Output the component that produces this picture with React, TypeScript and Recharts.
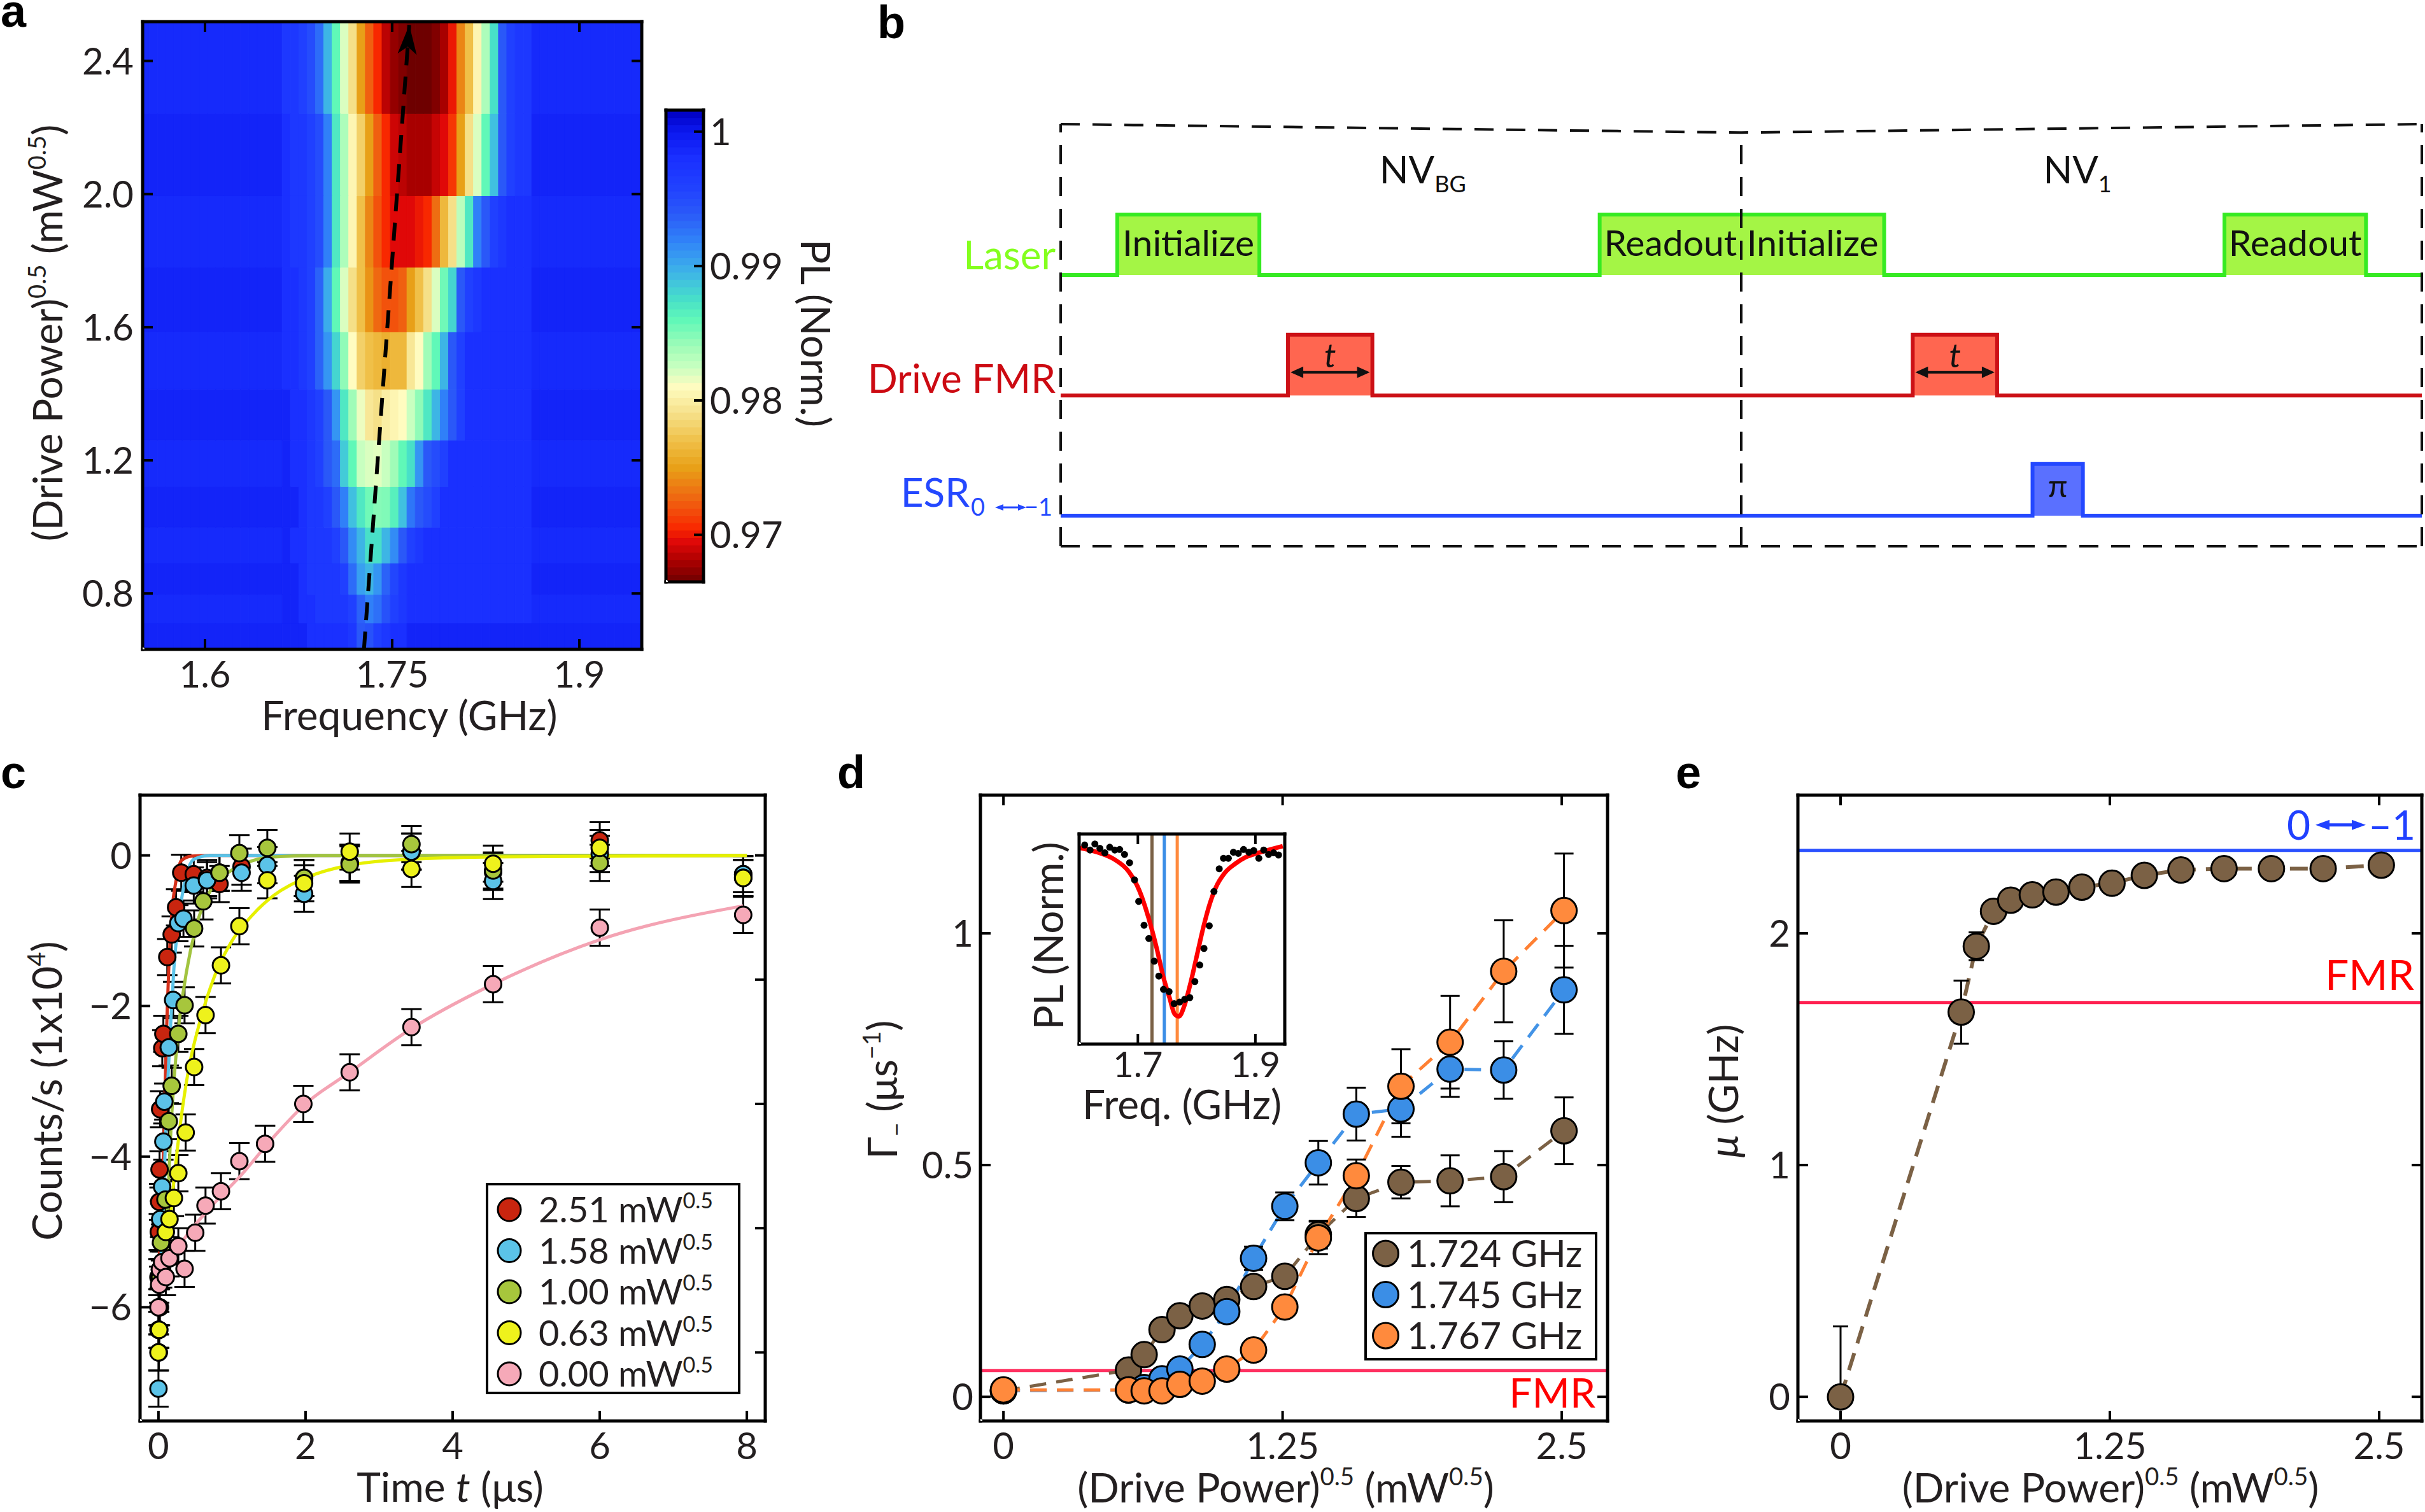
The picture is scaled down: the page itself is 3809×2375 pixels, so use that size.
import React from 'react';
import {
  ComposedChart, Line, Scatter, XAxis, YAxis, ReferenceArea, ReferenceLine, ErrorBar, Legend,
} from 'recharts';

const FONT = 'Lato, "Open Sans", "DejaVu Sans", sans-serif';
const INK = '#231f20';
const TICK_FS = 58;
const TITLE_FS = 64;

// ================= Panel a : PL map =================
const powerEdges = [0.632, 0.711, 0.797, 0.891, 0.999, 1.121, 1.261, 1.414, 1.586, 1.78, 1.995, 2.242, 2.518];
const freqStart = 1.5485;
const freqStep = 1 / 150;
const freqCount = 61;
const dipStartCol = 17;
const rowBackground = [0.999, 0.9985, 0.999, 0.9985, 0.999, 0.9985, 0.999, 0.9985, 0.999, 0.9985, 0.999, 0.9985];
const plRow0 = [0.999,0.999,0.999,0.998,0.998,0.998,0.998,0.998,0.997,0.994,0.9945,0.996,0.997,0.998,0.998,0.999,0.999,0.999,0.999,0.999,0.999,0.999,0.999,0.999,0.999,0.999,0.999,0.999,0.999,0.999];
const plRow1 = [0.999,0.999,0.998,0.998,0.997,0.997,0.997,0.997,0.996,0.9935,0.992,0.9928,0.9945,0.996,0.997,0.998,0.998,0.998,0.998,0.998,0.998,0.998,0.998,0.998,0.998,0.998,0.998,0.998,0.998,0.998];
const plRow2 = [0.999,0.999,0.998,0.997,0.997,0.997,0.997,0.996,0.993,0.9905,0.9895,0.991,0.9935,0.9955,0.997,0.998,0.998,0.998,0.998,0.998,0.998,0.998,0.998,0.998,0.998,0.998,0.998,0.998,0.998,0.998];
const plRow3 = [0.999,0.998,0.998,0.997,0.997,0.997,0.996,0.994,0.9915,0.9895,0.9875,0.9875,0.9895,0.9915,0.994,0.996,0.997,0.998,0.998,0.998,0.998,0.998,0.998,0.998,0.998,0.998,0.998,0.998,0.998,0.998];
const plRow4 = [0.999,0.999,0.998,0.997,0.997,0.996,0.994,0.992,0.989,0.987,0.9855,0.9848,0.985,0.9865,0.989,0.9925,0.994,0.995,0.996,0.998,0.998,0.998,0.998,0.998,0.998,0.998,0.998,0.998,0.998,0.998];
const plRow5 = [0.999,0.998,0.998,0.997,0.996,0.994,0.993,0.9885,0.986,0.9825,0.982,0.9818,0.9825,0.984,0.986,0.9875,0.991,0.994,0.995,0.996,0.998,0.998,0.998,0.998,0.998,0.998,0.998,0.998,0.998,0.998];
const plRow6 = [0.999,0.998,0.998,0.997,0.996,0.994,0.991,0.987,0.984,0.9815,0.9795,0.979,0.98,0.9805,0.981,0.9825,0.9845,0.987,0.9895,0.992,0.994,0.996,0.998,0.998,0.998,0.998,0.998,0.998,0.998,0.998];
const plRow7 = [0.998,0.998,0.997,0.996,0.9935,0.991,0.988,0.9845,0.981,0.978,0.977,0.9765,0.976,0.9765,0.9765,0.9795,0.981,0.984,0.986,0.9895,0.994,0.996,0.998,0.998,0.998,0.998,0.998,0.998,0.998,0.998];
const plRow8 = [0.998,0.998,0.997,0.996,0.9935,0.99,0.986,0.982,0.979,0.977,0.9745,0.9728,0.972,0.972,0.9725,0.975,0.977,0.979,0.982,0.9855,0.988,0.994,0.996,0.997,0.998,0.998,0.998,0.998,0.998,0.998];
const plRow9 = [0.998,0.997,0.997,0.996,0.995,0.992,0.987,0.9835,0.9805,0.977,0.974,0.972,0.9705,0.9695,0.9695,0.9695,0.97,0.9705,0.973,0.9765,0.979,0.983,0.987,0.992,0.994,0.996,0.997,0.998,0.998,0.998];
const plRow10 = [0.998,0.997,0.997,0.996,0.995,0.992,0.987,0.9835,0.9805,0.978,0.975,0.9725,0.9705,0.969,0.9685,0.968,0.968,0.968,0.9688,0.9695,0.971,0.975,0.979,0.982,0.986,0.989,0.994,0.996,0.997,0.997];
const plRow11 = [0.997,0.997,0.996,0.995,0.993,0.9895,0.986,0.982,0.979,0.975,0.9725,0.9705,0.9685,0.9675,0.967,0.9665,0.9665,0.9665,0.967,0.968,0.97,0.974,0.977,0.9805,0.9835,0.9875,0.994,0.996,0.997,0.997];
const plRows = [plRow0, plRow1, plRow2, plRow3, plRow4, plRow5, plRow6, plRow7, plRow8, plRow9, plRow10, plRow11];
const resonanceTrack = [{ x: 1.7274, y: 0.632 }, { x: 1.7637, y: 2.508 }];
const aFreqTicks = [1.6, 1.75, 1.9];
const aPowerTicks = [0.8, 1.2, 1.6, 2.0, 2.4];
const colorbarTicks = [0.97, 0.98, 0.99, 1.0];
const plRange: [number, number] = [0.9665, 1.0016];
const colorbarLevels = 64;
const cmapStops: [number, string][] = [
  [0.9665, '#6e0000'], [0.968, '#a80000'], [0.9695, '#e00808'], [0.9705, '#f82800'],
  [0.9725, '#f06010'], [0.975, '#e8a018'], [0.977, '#f0c048'], [0.979, '#f5e088'],
  [0.981, '#fffcc0'], [0.9825, '#c8ffc0'], [0.984, '#a0fcb8'], [0.986, '#60f8b8'],
  [0.9875, '#48e0c8'], [0.989, '#40c0e0'], [0.9905, '#38a0f0'], [0.992, '#3080f8'],
  [0.994, '#2a58f8'], [0.996, '#2040ff'], [0.998, '#1a30ff'], [1.0, '#0c18f0'], [1.0016, '#0000c0'],
];

// ================= Panel b : pulse sequence =================
const laserPulses = [
  { start: 4.16, end: 14.6, text: 'Initialize' },
  { start: 39.6, end: 50, text: 'Readout' },
  { start: 50, end: 60.5, text: 'Initialize' },
  { start: 85.5, end: 95.9, text: 'Readout' },
];
const fmrPulses = [{ start: 16.7, end: 22.9 }, { start: 62.6, end: 68.8 }];
const esrPulses = [{ start: 71.4, end: 75.1 }];
const laserLevel = [64.25, 78.6];
const fmrLevel = [35.7, 50.1];
const esrLevel = [7.24, 19.5];
const segmentCenters = [26.6, 74.7];
const segmentNames = ['BG', '1'];
const separatorTime = 50;
const boxTopSag = 98;

// ================= Panel c : time traces =================
const cRedT = [0, 0.005, 0.01, 0.015, 0.023, 0.052, 0.067, 0.12, 0.18, 0.24, 0.31, 0.48, 0.66, 0.83, 1.13, 1.98, 2.6, 3.44, 4.55, 6.0, 7.95];
const cRedV = [-5.6, -5.0, -4.6, -4.17, -3.37, -2.56, -2.37, -1.35, -1.05, -0.69, -0.23, -0.25, -0.3, -0.38, -0.15, -0.3, -0.1, 0.05, -0.22, 0.2, -0.25];
const cRedFitT = [0, 0.02, 0.05, 0.08, 0.11, 0.14, 0.18, 0.24, 0.31, 0.45, 0.7, 8];
const cRedFitV = [-5.6, -5.1, -4.57, -3.55, -2.32, -1.5, -0.79, -0.33, -0.07, -0.01, 0, 0];
const cBlueT = [0, 0.005, 0.01, 0.02, 0.023, 0.05, 0.067, 0.08, 0.14, 0.2, 0.27, 0.34, 0.48, 0.66, 0.83, 1.13, 1.48, 1.98, 2.6, 3.44, 4.55, 6.0, 7.95];
const cBlueV = [-7.08, -6.6, -6.3, -5.5, -4.83, -4.4, -3.8, -3.27, -2.55, -1.92, -0.9, -0.84, -0.4, -0.33, -0.23, -0.23, -0.13, -0.51, -0.1, 0.05, -0.34, 0.02, -0.25];
const cBlueFitT = [0, 0.043, 0.067, 0.095, 0.125, 0.17, 0.21, 0.27, 0.34, 0.485, 0.7, 8];
const cBlueFitV = [-5.6, -5.19, -4.57, -3.8, -3.04, -2.17, -1.5, -0.89, -0.43, -0.05, 0, 0];
const cGreenT = [0, 0.01, 0.02, 0.035, 0.095, 0.14, 0.18, 0.27, 0.355, 0.485, 0.61, 0.83, 1.1, 1.48, 1.98, 2.6, 3.44, 4.55, 6.0, 7.95];
const cGreenV = [-6.3, -6.0, -5.6, -5.14, -4.57, -3.53, -3.06, -2.37, -1.99, -0.97, -0.61, -0.23, 0.03, 0.1, -0.3, -0.12, 0.15, -0.2, -0.1, -0.3];
const cGreenFitT = [0, 0.05, 0.095, 0.18, 0.27, 0.37, 0.5, 0.7, 0.99, 1.28, 1.57, 2.2, 8];
const cGreenFitV = [-5.6, -5.4, -5.14, -3.45, -2.32, -1.61, -0.99, -0.48, -0.2, -0.07, -0.02, 0, 0];
const cYellowT = [0, 0.01, 0.02, 0.05, 0.1, 0.15, 0.21, 0.27, 0.37, 0.485, 0.64, 0.85, 1.1, 1.48, 1.98, 2.6, 3.44, 4.55, 6.0, 7.95];
const cYellowV = [-6.6, -6.3, -6.0, -5.5, -5.0, -4.83, -4.55, -4.22, -3.68, -2.81, -2.12, -1.46, -0.94, -0.33, -0.37, 0.05, -0.18, -0.11, 0.1, -0.3];
const cYellowFitT = [0, 0.06, 0.125, 0.21, 0.3, 0.41, 0.56, 0.76, 0.99, 1.28, 1.57, 2.0, 2.6, 3.44, 4.55, 8];
const cYellowFitV = [-5.6, -5.45, -5.14, -4.32, -3.55, -2.84, -2.22, -1.61, -1.15, -0.79, -0.53, -0.3, -0.13, -0.05, -0.02, 0];
const cPinkT = [0, 0.01, 0.02, 0.05, 0.1, 0.15, 0.27, 0.355, 0.5, 0.64, 0.85, 1.1, 1.45, 1.97, 2.6, 3.44, 4.55, 6.0, 7.95];
const cPinkV = [-6.0, -5.7, -5.5, -5.4, -5.6, -5.35, -5.19, -5.49, -5.01, -4.65, -4.46, -4.06, -3.83, -3.3, -2.88, -2.28, -1.71, -0.96, -0.79];
const cPinkFitT = [0, 0.27, 0.7, 1.13, 1.51, 2.0, 2.6, 3.44, 4.55, 6.0, 7.95];
const cPinkFitV = [-5.7, -5.21, -4.68, -4.24, -3.8, -3.3, -2.88, -2.3, -1.71, -1.12, -0.67];
const cErr = 0.24;
const cLabels = ['2.51', '1.58', '1.00', '0.63', '0.00'];

// ================= Panel d : rates =================
const dPower = [0, 0.56, 0.63, 0.71, 0.79, 0.89, 1.0, 1.12, 1.26, 1.41, 1.58, 1.78, 2.0, 2.24, 2.51];
const dBrownV = [0.013, 0.058, 0.091, 0.145, 0.175, 0.196, 0.21, 0.238, 0.26, 0.35, 0.428, 0.463, 0.466, 0.475, 0.574];
const dBrownE = [0.005, 0.01, 0.01, 0.01, 0.01, 0.01, 0.01, 0.015, 0.015, 0.03, 0.04, 0.035, 0.055, 0.055, 0.072];
const dBlueV = [0.013, 0.015, 0.02, 0.039, 0.06, 0.113, 0.184, 0.299, 0.411, 0.505, 0.61, 0.621, 0.707, 0.705, 0.878];
const dBlueE = [0.005, 0.005, 0.005, 0.005, 0.01, 0.01, 0.015, 0.025, 0.03, 0.047, 0.057, 0.06, 0.06, 0.062, 0.095];
const dOrangeV = [0.015, 0.015, 0.013, 0.013, 0.027, 0.034, 0.06, 0.101, 0.194, 0.343, 0.477, 0.67, 0.765, 0.918, 1.049];
const dOrangeE = [0.005, 0.005, 0.005, 0.005, 0.005, 0.01, 0.01, 0.01, 0.01, 0.035, 0.035, 0.08, 0.1, 0.11, 0.123];
const dLabels = ['1.724 GHz', '1.745 GHz', '1.767 GHz'];
const dFmrRate = 0.057;
const insetFreq = [1.6095,1.6186,1.6268,1.6354,1.6438,1.6521,1.6607,1.669,1.6773,1.6859,1.6943,1.7014,1.7105,1.7187,1.7278,1.7357,1.7436,1.753,1.7617,1.7711,1.7797,1.7884,1.797,1.8053,1.8125,1.8215,1.8295,1.8385,1.8457,1.854,1.8626,1.8709,1.8799,1.889,1.8972,1.9059,1.9142,1.9225,1.9311,1.9394];
const insetPL = [1.002,1.0011,1.0022,1.0014,1.0006,1.0016,1.0011,1.0012,1.0003,0.9988,0.9957,0.9918,0.9875,0.9851,0.981,0.9783,0.9759,0.9755,0.9733,0.9736,0.9741,0.9744,0.9773,0.9803,0.9833,0.9874,0.9936,0.9977,0.9996,0.9996,1.0007,1.0005,1.0012,1.0007,1.001,0.9996,1.0011,1.0003,1.0006,1.0002];
const insetFitFreq = [1.6005,1.6311,1.66,1.6852,1.7032,1.7177,1.7321,1.7429,1.7538,1.7627,1.77,1.779,1.7898,1.8006,1.8114,1.8222,1.833,1.8475,1.8655,1.8836,1.9088,1.9466];
const insetFitPL = [1.0015,1.0007,0.9994,0.9971,0.9936,0.989,0.9833,0.9783,0.9744,0.9714,0.971,0.9729,0.9771,0.9821,0.9871,0.9913,0.9944,0.9969,0.9986,0.9998,1.0007,1.0018];
const insetMarkFreq = [1.724, 1.745, 1.767];

// ================= Panel e : chemical potential =================
const eMu = [0, 1.66, 1.944, 2.095, 2.143, 2.166, 2.178, 2.199, 2.216, 2.25, 2.273, 2.279, 2.279, 2.279, 2.294];
const eErrLow = [0, 0.136, 0.06, 0.02, 0.02, 0.02, 0.02, 0.02, 0.02, 0.02, 0.02, 0.02, 0.02, 0.02, 0.02];
const eErrHigh = [0.304, 0.136, 0.06, 0.02, 0.02, 0.02, 0.02, 0.02, 0.02, 0.02, 0.02, 0.02, 0.02, 0.02, 0.02];
const eEsrFreq = 2.358;
const eFmrFreq = 1.701;

// ================= helpers =================
function hex(c: string) { return [1, 3, 5].map((i) => parseInt(c.slice(i, i + 2), 16)); }
function cmap(v: number) {
  const s = cmapStops;
  if (v <= s[0][0]) return s[0][1];
  if (v >= s[s.length - 1][0]) return s[s.length - 1][1];
  for (let i = 0; i < s.length - 1; i++) {
    if (v >= s[i][0] && v <= s[i + 1][0]) {
      const f = (v - s[i][0]) / (s[i + 1][0] - s[i][0]);
      const a = hex(s[i][1]); const b = hex(s[i + 1][1]);
      const c = a.map((x, k) => Math.round(x + (b[k] - x) * f));
      return `rgb(${c[0]},${c[1]},${c[2]})`;
    }
  }
  return s[0][1];
}

const heatCells = plRows.flatMap((row, r) => {
  const out: { x1: number; x2: number; y1: number; y2: number; v: number }[] = [];
  for (let k = 0; k < freqCount; k++) {
    const inDip = k >= dipStartCol && k < dipStartCol + row.length;
    out.push({
      x1: freqStart + k * freqStep, x2: freqStart + (k + 1) * freqStep,
      y1: powerEdges[r], y2: powerEdges[r + 1], v: inDip ? row[k - dipStartCol] : rowBackground[r],
    });
  }
  return out;
});

const colorbarBands = Array.from({ length: colorbarLevels }, (_, i) => {
  const span = plRange[1] - plRange[0];
  return { y1: plRange[0] + (i * span) / colorbarLevels, y2: plRange[0] + ((i + 1) * span) / colorbarLevels, v: plRange[0] + ((i + 0.5) * span) / colorbarLevels };
});

const zipXY = (xs: number[], ys: number[], es?: any[]) => xs.map((x, i) => ({ x, y: ys[i], e: es ? es[i] : 0 }));

const cSeries = [
  { label: cLabels[0], fill: '#c9250f', line: '#d4301a', pts: zipXY(cRedT, cRedV, cRedT.map(() => cErr)), fit: zipXY(cRedFitT, cRedFitV) },
  { label: cLabels[1], fill: '#5bc3e8', line: '#5bc3e8', pts: zipXY(cBlueT, cBlueV, cBlueT.map(() => cErr)), fit: zipXY(cBlueFitT, cBlueFitV) },
  { label: cLabels[2], fill: '#a7c63c', line: '#a2c440', pts: zipXY(cGreenT, cGreenV, cGreenT.map(() => cErr)), fit: zipXY(cGreenFitT, cGreenFitV) },
  { label: cLabels[3], fill: '#eef21c', line: '#e6f000', pts: zipXY(cYellowT, cYellowV, cYellowT.map(() => cErr)), fit: zipXY(cYellowFitT, cYellowFitV) },
  { label: cLabels[4], fill: '#f6a9b8', line: '#f4a3b3', pts: zipXY(cPinkT, cPinkV, cPinkT.map(() => cErr)), fit: zipXY(cPinkFitT, cPinkFitV) },
];

const dSeries = [
  { label: dLabels[0], fill: '#7b6145', line: '#7b6145', pts: zipXY(dPower, dBrownV, dBrownE) },
  { label: dLabels[1], fill: '#3b8ee6', line: '#4393e6', pts: zipXY(dPower, dBlueV, dBlueE) },
  { label: dLabels[2], fill: '#ff8a3d', line: '#ff8033', pts: zipXY(dPower, dOrangeV, dOrangeE) },
];
const insetMarkColors = ['#7b6145', '#3b8ee6', '#ff8a3d'];

const ePts = dPower.map((x, i) => ({ x, y: eMu[i], e: [eErrLow[i], eErrHigh[i]] }));

const frameLine: any = { stroke: '#000', strokeWidth: 5, strokeLinecap: 'square' };

type Seg = { t: string; k?: 'sup' | 'sub'; i?: boolean };
function Rich({ segs, fs }: { segs: Seg[]; fs: number }) {
  let cur = 0;
  return (
    <>
      {segs.map((s, i) => {
        const target = s.k === 'sup' ? -0.42 * fs : s.k === 'sub' ? 0.2 * fs : 0;
        const dy = target - cur;
        cur = target;
        return (
          <tspan key={i} dy={dy} fontSize={s.k ? fs * 0.6 : fs} fontStyle={s.i ? 'italic' : undefined}>{s.t}</tspan>
        );
      })}
    </>
  );
}

const xTitle = (segs: Seg[], dx: number, base: number, fs = TITLE_FS) => (p: any) => {
  const vb = p.viewBox || p;
  const cx = vb.x + vb.width / 2 + dx;
  return (
    <text x={cx} y={vb.y + base} textAnchor="middle" fontSize={fs} fontFamily={FONT} fill={INK} style={{ whiteSpace: 'pre' }}>
      <Rich segs={segs} fs={fs} />
    </text>
  );
};
const yTitle = (segs: Seg[], off: number, dy: number, fs = TITLE_FS, rot = -90) => (p: any) => {
  const vb = p.viewBox || p;
  const edge = rot === -90 ? vb.x + vb.width : vb.x;
  const cx = rot === -90 ? edge - off : edge + off;
  const cy = vb.y + vb.height / 2 + dy;
  return (
    <text x={cx} y={cy + 0.35 * fs} transform={`rotate(${rot} ${cx} ${cy})`} textAnchor="middle" fontSize={fs} fontFamily={FONT} fill={INK} style={{ whiteSpace: 'pre' }}>
      <Rich segs={segs} fs={fs} />
    </text>
  );
};

function tickFactory(side: 'bottom' | 'top' | 'left' | 'right', opts: { len?: number; labels?: boolean; fmt?: (v: number) => string; fs?: number; gap?: number } = {}) {
  const len = opts.len ?? 16;
  const fs = opts.fs ?? TICK_FS;
  const gap = opts.gap ?? 16;
  return (props: any) => {
    const { x, y, payload } = props;
    const label = opts.fmt ? opts.fmt(payload.value) : String(payload.value);
    let line: any = null;
    let text: any = null;
    if (side === 'bottom') {
      line = <line x1={x} y1={y} x2={x} y2={y - len} stroke="#000" strokeWidth={4} />;
      if (opts.labels) text = <text x={x} y={y + gap + fs * 0.72} textAnchor="middle" fontSize={fs} fontFamily={FONT} fill={INK}>{label}</text>;
    } else if (side === 'top') {
      line = <line x1={x} y1={y} x2={x} y2={y + len} stroke="#000" strokeWidth={4} />;
    } else if (side === 'left') {
      line = <line x1={x} y1={y} x2={x + len} y2={y} stroke="#000" strokeWidth={4} />;
      if (opts.labels) text = <text x={x - gap} y={y + fs * 0.36} textAnchor="end" fontSize={fs} fontFamily={FONT} fill={INK}>{label}</text>;
    } else {
      line = <line x1={x} y1={y} x2={x - len} y2={y} stroke="#000" strokeWidth={4} />;
      if (opts.labels) text = <text x={x + gap} y={y + fs * 0.36} textAnchor="start" fontSize={fs} fontFamily={FONT} fill={INK}>{label}</text>;
    }
    return <g>{line}{text}</g>;
  };
}

const minusFmt = (v: number) => (v < 0 ? '\u2212' + String(-v) : String(v));

function DoubleArrow({ x1, x2, y, color, w, head, hw }: { x1: number; x2: number; y: number; color: string; w: number; head: number; hw: number }) {
  return (
    <g>
      <line x1={x1 + head * 0.8} y1={y} x2={x2 - head * 0.8} y2={y} stroke={color} strokeWidth={w} />
      <polygon points={`${x1},${y} ${x1 + head},${y - hw} ${x1 + head},${y + hw}`} fill={color} />
      <polygon points={`${x2},${y} ${x2 - head},${y - hw} ${x2 - head},${y + hw}`} fill={color} />
    </g>
  );
}

const dotShape = (fill: string, r: number, sw = 3) => (p: any) => (
  <circle cx={p.cx} cy={p.cy} r={r} fill={fill} stroke="#000" strokeWidth={sw} />
);

// invisible anchor so that the mirrored axes always get a scale
const anchorLine = (xId: any, yId: any, pt: { x: number; y: number }) => (
  <Line xAxisId={xId} yAxisId={yId} data={[pt]} dataKey="y" stroke="none" dot={false} activeDot={false} legendType="none" isAnimationActive={false} />
);

// ================= Panel a =================
const arrowDot = (p: any) => {
  if (p.index !== resonanceTrack.length - 1) return <g key={`d${p.index}`} />;
  const { cx, cy } = p;
  return (
    <polygon key="arrowhead" points={`${cx},${cy} ${cx - 15},${cy + 46} ${cx},${cy + 34} ${cx + 15},${cy + 46}`} fill="#000" transform={`rotate(4.1 ${cx} ${cy})`} />
  );
};

function PanelA() {
  const dom: [number, number] = [1.55, 1.95];
  const ydom: [number, number] = [powerEdges[0], powerEdges[powerEdges.length - 1]];
  return (
    <ComposedChart width={1040} height={1180} margin={{ top: 33, right: 31, left: 0, bottom: 0 }}>
      {heatCells.map((c, i) => (
        <ReferenceArea key={i} x1={c.x1} x2={c.x2} y1={c.y1} y2={c.y2} fill={cmap(c.v)} fillOpacity={1} stroke={cmap(c.v)} strokeWidth={1} ifOverflow="hidden" />
      ))}
      <Line data={resonanceTrack} dataKey="y" stroke="#000" strokeWidth={6} strokeDasharray="28 18" dot={arrowDot} activeDot={false} isAnimationActive={false} />
      {anchorLine('top', 'right', { x: 1.55, y: 0.632 })}
      <XAxis xAxisId={0} type="number" dataKey="x" domain={dom} ticks={aFreqTicks} interval={0} allowDataOverflow tickSize={0} tickMargin={0} height={160} axisLine={frameLine} tickLine={false} tick={tickFactory('bottom', { labels: true, gap: 18 })} label={xTitle([{ t: 'Frequency (GHz)' }], 27, 127)} />
      <XAxis xAxisId="top" orientation="top" type="number" dataKey="x" domain={dom} ticks={aFreqTicks} interval={0} allowDataOverflow tickSize={0} tickMargin={0} height={1} axisLine={frameLine} tickLine={false} tick={tickFactory('top')} />
      <YAxis yAxisId={0} type="number" dataKey="y" domain={ydom} ticks={aPowerTicks} interval={0} allowDataOverflow tickSize={0} tickMargin={0} width={224} axisLine={frameLine} tickLine={false} tick={tickFactory('left', { labels: true, gap: 14, fmt: (v) => v.toFixed(1) })} label={yTitle([{ t: '(Drive Power)' }, { t: '0.5', k: 'sup' }, { t: ' (mW' }, { t: '0.5', k: 'sup' }, { t: ')' }], 148, -4)} />
      <YAxis yAxisId="right" orientation="right" type="number" dataKey="y" domain={ydom} ticks={aPowerTicks} interval={0} allowDataOverflow tickSize={0} tickMargin={0} width={1} axisLine={frameLine} tickLine={false} tick={tickFactory('right')} />
    </ComposedChart>
  );
}

function Colorbar() {
  return (
    <ComposedChart width={330} height={820} margin={{ top: 32, right: 25, left: 45, bottom: 45 }}>
      {colorbarBands.map((b, i) => (
        <ReferenceArea key={i} x1={0} x2={1} y1={b.y1} y2={b.y2} fill={cmap(b.v)} fillOpacity={1} stroke={cmap(b.v)} strokeWidth={1} ifOverflow="hidden" />
      ))}
      {anchorLine('top', 'r', { x: 0, y: plRange[0] })}
      <XAxis xAxisId={0} type="number" dataKey="x" domain={[0, 1]} allowDataOverflow height={1} tick={false} tickLine={false} axisLine={frameLine} />
      <XAxis xAxisId="top" orientation="top" type="number" dataKey="x" domain={[0, 1]} allowDataOverflow height={1} tick={false} tickLine={false} axisLine={frameLine} />
      <YAxis yAxisId={0} type="number" dataKey="y" domain={plRange} allowDataOverflow width={1} tick={false} tickLine={false} axisLine={frameLine} />
      <YAxis yAxisId="r" orientation="right" type="number" dataKey="y" domain={plRange} ticks={colorbarTicks} interval={0} allowDataOverflow tickSize={0} tickMargin={0} width={200} axisLine={frameLine} tickLine={false} tick={tickFactory('right', { labels: true, gap: 10, len: 15, fmt: (v) => (v === 1 ? '1' : v.toFixed(2)) })} label={yTitle([{ t: 'PL (Norm.)' }], 175, -20, TITLE_FS, 90)} />
    </ComposedChart>
  );
}

// ================= Panel b =================
function stepPath(base: number, top: number, pulses: { start: number; end: number }[]) {
  const pts = [{ x: 0, y: base }];
  let prevEnd = -1;
  pulses.forEach((p, i) => {
    const next = pulses[i + 1];
    if (p.start !== prevEnd) pts.push({ x: p.start, y: base }, { x: p.start, y: top });
    if (!next || next.start !== p.end) pts.push({ x: p.end, y: top }, { x: p.end, y: base });
    prevEnd = p.end;
  });
  pts.push({ x: 100, y: base });
  return pts;
}

const LASER = { line: '#36ea22', fill: '#a4f545', text: '#84ff1e' };
const FMR = { line: '#cc1016', fill: '#ff6650', text: '#cc0a12' };
const ESR = { line: '#2448ff', fill: '#5a70ff', text: '#2448ff' };

const channelTick = (p: any) => {
  const { x, y, payload } = p;
  const v = payload.value;
  if (v === laserLevel[0]) return <text x={x - 8} y={y - 9} textAnchor="end" fontSize={62} fontFamily={FONT} fill={LASER.text}>Laser</text>;
  if (v === fmrLevel[0]) return <text x={x - 8} y={y - 4} textAnchor="end" fontSize={62} fontFamily={FONT} fill={FMR.text}>Drive FMR</text>;
  return (
    <g fill={ESR.text} fontFamily={FONT}>
      <text x={x - 143} y={y - 14} textAnchor="end" fontSize={62}>ESR</text>
      <text x={x - 141} y={y} fontSize={38}>0</text>
      <DoubleArrow x1={x - 103} x2={x - 54} y={y - 13} color={ESR.text} w={3} head={13} hw={5} />
      <text x={x - 13} y={y} textAnchor="end" fontSize={38}>{'\u22121'}</text>
    </g>
  );
};

function PanelB() {
  const dash = '30 20';
  return (
    <ComposedChart width={2469} height={750} margin={{ top: 45, right: 5, left: 0, bottom: 42 }}>
      {laserPulses.map((pl, i) => (
        <ReferenceArea key={`l${i}`} x1={pl.start} x2={pl.end} y1={laserLevel[0]} y2={laserLevel[1]} fill={LASER.fill} fillOpacity={1} stroke="none"
          label={(lp: any) => {
            const vb = lp.viewBox;
            return <text x={vb.x + vb.width / 2} y={vb.y + 65} textAnchor="middle" fontSize={57} fontFamily={FONT} fill="#111">{pl.text}</text>;
          }} />
      ))}
      {fmrPulses.map((pl, i) => (
        <ReferenceArea key={`f${i}`} x1={pl.start} x2={pl.end} y1={fmrLevel[0]} y2={fmrLevel[1]} fill={FMR.fill} fillOpacity={1} stroke="none"
          label={(lp: any) => {
            const vb = lp.viewBox;
            return (
              <g>
                <text x={vb.x + vb.width / 2} y={vb.y + 51} textAnchor="middle" fontSize={52} fontStyle="italic" fontFamily={FONT} fill="#111">t</text>
                <DoubleArrow x1={vb.x + 4} x2={vb.x + vb.width - 4} y={vb.y + 59} color="#111" w={4} head={20} hw={9} />
              </g>
            );
          }} />
      ))}
      {esrPulses.map((pl, i) => (
        <ReferenceArea key={`e${i}`} x1={pl.start} x2={pl.end} y1={esrLevel[0]} y2={esrLevel[1]} fill={ESR.fill} fillOpacity={1} stroke="none"
          label={(lp: any) => {
            const vb = lp.viewBox;
            return <text x={vb.x + vb.width / 2} y={vb.y + 52} textAnchor="middle" fontSize={50} fontFamily={FONT} fill="#111">{'\u03c0'}</text>;
          }} />
      ))}
      {segmentCenters.map((c, i) => (
        <ReferenceArea key={`nv${i}`} x1={c - 1} x2={c + 1} y1={86} y2={88} fill="none" fillOpacity={0} stroke="none"
          label={(lp: any) => {
            const vb = lp.viewBox;
            return (
              <text x={vb.x + vb.width / 2} y={vb.y + vb.height} textAnchor="middle" fontSize={60} fontFamily={FONT} fill="#111">
                NV<tspan fontSize={36} dy={14}>{segmentNames[i]}</tspan>
              </text>
            );
          }} />
      ))}
      <Line data={stepPath(laserLevel[0], laserLevel[1], laserPulses)} dataKey="y" stroke={LASER.line} strokeWidth={6} dot={false} activeDot={false} isAnimationActive={false} />
      <Line data={stepPath(fmrLevel[0], fmrLevel[1], fmrPulses)} dataKey="y" stroke={FMR.line} strokeWidth={6} dot={false} activeDot={false} isAnimationActive={false} />
      <Line data={stepPath(esrLevel[0], esrLevel[1], esrPulses)} dataKey="y" stroke={ESR.line} strokeWidth={6} dot={false} activeDot={false} isAnimationActive={false} />
      <Line data={[{ x: 0, y: 100 }, { x: separatorTime, y: boxTopSag }, { x: 100, y: 100 }]} dataKey="y" stroke="#111" strokeWidth={4} strokeDasharray={dash} dot={false} activeDot={false} isAnimationActive={false} />
      <ReferenceLine x={0} stroke="#111" strokeWidth={4} strokeDasharray={dash} />
      <ReferenceLine x={100} stroke="#111" strokeWidth={4} strokeDasharray={dash} />
      <ReferenceLine y={0} stroke="#111" strokeWidth={4} strokeDasharray={dash} />
      <ReferenceLine segment={[{ x: separatorTime, y: 0 }, { x: separatorTime, y: boxTopSag }]} stroke="#111" strokeWidth={4} strokeDasharray={dash} />
      <XAxis xAxisId={0} type="number" dataKey="x" domain={[0, 100]} hide />
      <YAxis yAxisId={0} type="number" dataKey="y" domain={[0, 100]} ticks={[esrLevel[0], fmrLevel[0], laserLevel[0]]} interval={0} width={326} tickSize={0} tickMargin={0} axisLine={false} tickLine={false} tick={channelTick} />
    </ComposedChart>
  );
}

// ================= Panel c =================
function CLegend() {
  return (
    <svg width={400} height={332} style={{ display: 'block', overflow: 'visible' }}>
      <rect x={2} y={2} width={396} height={328} fill="#fff" stroke="#000" strokeWidth={4} />
      {cSeries.map((s, i) => (
        <g key={i}>
          <circle cx={37} cy={42 + i * 64.5} r={18} fill={s.fill} stroke="#000" strokeWidth={3} />
          <text x={83} y={42 + i * 64.5 + 20} fontSize={56} fontFamily={FONT} fill={INK}>
            {s.label} mW<tspan dy={-22} fontSize={34}>0.5</tspan>
          </text>
        </g>
      ))}
    </svg>
  );
}

function PanelC() {
  const dom: [number, number] = [-0.25, 8.25];
  const ydom: [number, number] = [-7.51, 0.8];
  return (
    <ComposedChart width={1260} height={1195} margin={{ top: 68, right: 57, left: 0, bottom: 0 }}>
      {cSeries.map((s, i) => (
        <Scatter key={`s${i}`} data={s.pts} shape={dotShape(s.fill, 13, 3)} legendType="none" isAnimationActive={false}>
          <ErrorBar dataKey="e" direction="y" width={16} stroke="#000" strokeWidth={3} />
        </Scatter>
      ))}
      {cSeries.map((s, i) => (
        <Line key={`f${i}`} data={s.fit} dataKey="y" type="monotone" stroke={s.line} strokeWidth={5} dot={false} activeDot={false} isAnimationActive={false} />
      ))}
      {anchorLine('top', 'r', { x: -0.25, y: -7.51 })}
      <XAxis xAxisId={0} type="number" dataKey="x" domain={dom} ticks={[0, 2, 4, 6, 8]} interval={0} allowDataOverflow tickSize={0} tickMargin={0} height={143} axisLine={frameLine} tickLine={false} tick={tickFactory('bottom', { labels: true, gap: 18 })} label={xTitle([{ t: 'Time ' }, { t: 't', i: true }, { t: ' (\u03bcs)' }], -4, 127)} />
      <XAxis xAxisId="top" orientation="top" type="number" dataKey="x" domain={dom} allowDataOverflow height={1} tick={false} tickLine={false} axisLine={frameLine} />
      <YAxis yAxisId={0} type="number" dataKey="y" domain={ydom} ticks={[0, -2, -4, -6]} interval={0} allowDataOverflow tickSize={0} tickMargin={0} width={220} axisLine={frameLine} tickLine={false} tick={tickFactory('left', { labels: true, gap: 13, fmt: minusFmt })} label={yTitle([{ t: 'Counts/s (1x10' }, { t: '4', k: 'sup' }, { t: ')' }], 145, -27)} />
      <YAxis yAxisId="r" orientation="right" type="number" dataKey="y" domain={ydom} ticks={[0, -1.65, -3.3, -4.95, -6.6]} interval={0} allowDataOverflow tickSize={0} tickMargin={0} width={1} axisLine={frameLine} tickLine={false} tick={tickFactory('right')} />
      <Legend layout="vertical" align="center" verticalAlign="middle" wrapperStyle={{ position: 'absolute', left: 763, top: 678, width: 400, height: 332 }} content={() => <CLegend />} />
    </ComposedChart>
  );
}

// ================= Panel d =================
function DLegend() {
  return (
    <svg width={366} height={202} style={{ display: 'block', overflow: 'visible' }}>
      <rect x={2} y={2} width={362} height={198} fill="#fff" stroke="#000" strokeWidth={4} />
      {dSeries.map((s, i) => (
        <g key={i}>
          <circle cx={33.5} cy={34 + i * 64.5} r={20} fill={s.fill} stroke="#000" strokeWidth={3} />
          <text x={67} y={34 + i * 64.5 + 21} fontSize={58} fontFamily={FONT} fill={INK}>{s.label}</text>
        </g>
      ))}
    </svg>
  );
}

function PanelD() {
  const dom: [number, number] = [-0.103, 2.705];
  const ydom: [number, number] = [-0.052, 1.298];
  return (
    <ComposedChart width={1300} height={1195} margin={{ top: 68, right: 74, left: 0, bottom: 0 }}>
      <ReferenceLine y={dFmrRate} stroke="#ff3060" strokeWidth={5}
        label={(lp: any) => {
          const vb = lp.viewBox;
          return <text x={vb.x + vb.width - 19} y={vb.y + 58} textAnchor="end" fontSize={64} fontFamily={FONT} fill="#ff0000">FMR</text>;
        }} />
      {dSeries.map((s, i) => (
        <Line key={`l${i}`} data={s.pts} dataKey="y" stroke={s.line} strokeWidth={5} strokeDasharray="26 16" dot={false} activeDot={false} isAnimationActive={false} />
      ))}
      {dSeries.map((s, i) => (
        <Scatter key={`s${i}`} data={s.pts} shape={dotShape(s.fill, 20, 3)} legendType="none" isAnimationActive={false}>
          <ErrorBar dataKey="e" direction="y" width={15} stroke="#000" strokeWidth={3} />
        </Scatter>
      ))}
      {anchorLine('top', 'r', { x: -0.103, y: -0.052 })}
      <XAxis xAxisId={0} type="number" dataKey="x" domain={dom} ticks={[0, 1.25, 2.5]} interval={0} allowDataOverflow tickSize={0} tickMargin={0} height={143} axisLine={frameLine} tickLine={false} tick={tickFactory('bottom', { labels: true, gap: 18 })} label={xTitle([{ t: '(Drive Power)' }, { t: '0.5', k: 'sup' }, { t: ' (mW' }, { t: '0.5', k: 'sup' }, { t: ')' }], -13, 128)} />
      <XAxis xAxisId="top" orientation="top" type="number" dataKey="x" domain={dom} ticks={[0, 1.25, 2.5]} interval={0} allowDataOverflow tickSize={0} tickMargin={0} height={1} axisLine={frameLine} tickLine={false} tick={tickFactory('top')} />
      <YAxis yAxisId={0} type="number" dataKey="y" domain={ydom} ticks={[0, 0.5, 1]} interval={0} allowDataOverflow tickSize={0} tickMargin={0} width={240} axisLine={frameLine} tickLine={false} tick={tickFactory('left', { labels: true, gap: 11 })} label={yTitle([{ t: '\u0393' }, { t: '\u2212', k: 'sub' }, { t: ' (\u03bcs' }, { t: '\u22121', k: 'sup' }, { t: ')' }], 153, -29)} />
      <YAxis yAxisId="r" orientation="right" type="number" dataKey="y" domain={ydom} ticks={[0, 0.5, 1]} interval={0} allowDataOverflow tickSize={0} tickMargin={0} width={1} axisLine={frameLine} tickLine={false} tick={tickFactory('right')} />
      <Legend layout="vertical" align="center" verticalAlign="middle" wrapperStyle={{ position: 'absolute', left: 843, top: 755, width: 366, height: 202 }} content={() => <DLegend />} />
    </ComposedChart>
  );
}

function Inset() {
  const dom: [number, number] = [1.6, 1.95];
  const ydom: [number, number] = [0.966, 1.004];
  return (
    <ComposedChart width={440} height={510} margin={{ top: 19, right: 21, left: 0, bottom: 0 }}>
      {insetMarkFreq.map((f, i) => (
        <ReferenceLine key={i} x={f} stroke={insetMarkColors[i]} strokeWidth={5} />
      ))}
      <Scatter data={zipXY(insetFreq, insetPL)} shape={dotShape('#000', 5.5, 0)} legendType="none" isAnimationActive={false} />
      <Line data={zipXY(insetFitFreq, insetFitPL)} dataKey="y" type="monotone" stroke="#ff0000" strokeWidth={7} dot={false} activeDot={false} isAnimationActive={false} />
      {anchorLine('top', 'r', { x: 1.6, y: 0.966 })}
      <XAxis xAxisId={0} type="number" dataKey="x" domain={dom} ticks={[1.7, 1.9]} interval={0} allowDataOverflow tickSize={0} tickMargin={0} height={160} axisLine={frameLine} tickLine={false} tick={tickFactory('bottom', { labels: true, gap: 12, fs: 56 })} label={xTitle([{ t: 'Freq. (GHz)' }], 0, 118)} />
      <XAxis xAxisId="top" orientation="top" type="number" dataKey="x" domain={dom} ticks={[1.7, 1.9]} interval={0} allowDataOverflow tickSize={0} tickMargin={0} height={1} axisLine={frameLine} tickLine={false} tick={tickFactory('top')} />
      <YAxis yAxisId={0} type="number" dataKey="y" domain={ydom} allowDataOverflow width={95} tick={false} tickLine={false} axisLine={frameLine} label={yTitle([{ t: 'PL (Norm.)' }], 47, -5)} />
      <YAxis yAxisId="r" orientation="right" type="number" dataKey="y" domain={ydom} allowDataOverflow width={1} tick={false} tickLine={false} axisLine={frameLine} />
    </ComposedChart>
  );
}

// ================= Panel e =================
function PanelE() {
  const dom: [number, number] = [-0.198, 2.698];
  const ydom: [number, number] = [-0.104, 2.596];
  const brown = '#7b6145';
  return (
    <ComposedChart width={1209} height={1195} margin={{ top: 68, right: 4, left: 0, bottom: 0 }}>
      <ReferenceLine y={eEsrFreq} stroke="#2a50ff" strokeWidth={5}
        label={(lp: any) => {
          const vb = lp.viewBox;
          const R = vb.x + vb.width;
          const b = vb.y - 17;
          return (
            <g fill="#2040ff" fontFamily={FONT} fontSize={64}>
              <text x={R - 212} y={b}>0</text>
              <DoubleArrow x1={R - 167} x2={R - 88} y={b - 23} color="#2040ff" w={5} head={22} hw={8} />
              <text x={R - 84} y={b}>{'\u20131'}</text>
            </g>
          );
        }} />
      <ReferenceLine y={eFmrFreq} stroke="#ff2050" strokeWidth={5}
        label={(lp: any) => {
          const vb = lp.viewBox;
          return <text x={vb.x + vb.width - 12} y={vb.y - 20} textAnchor="end" fontSize={66} fontFamily={FONT} fill="#ff0000">FMR</text>;
        }} />
      <Line data={ePts} dataKey="y" stroke={brown} strokeWidth={6} strokeDasharray="28 16" dot={false} activeDot={false} isAnimationActive={false} />
      <Scatter data={ePts} shape={dotShape(brown, 20, 3)} legendType="none" isAnimationActive={false}>
        <ErrorBar dataKey="e" direction="y" width={12} stroke="#000" strokeWidth={3} />
      </Scatter>
      {anchorLine('top', 'r', { x: -0.198, y: -0.104 })}
      <XAxis xAxisId={0} type="number" dataKey="x" domain={dom} ticks={[0, 1.25, 2.5]} interval={0} allowDataOverflow tickSize={0} tickMargin={0} height={143} axisLine={frameLine} tickLine={false} tick={tickFactory('bottom', { labels: true, gap: 18 })} label={xTitle([{ t: '(Drive Power)' }, { t: '0.5', k: 'sup' }, { t: ' (mW' }, { t: '0.5', k: 'sup' }, { t: ')' }], 1, 128)} />
      <XAxis xAxisId="top" orientation="top" type="number" dataKey="x" domain={dom} ticks={[0, 1.25, 2.5]} interval={0} allowDataOverflow tickSize={0} tickMargin={0} height={1} axisLine={frameLine} tickLine={false} tick={tickFactory('top')} />
      <YAxis yAxisId={0} type="number" dataKey="y" domain={ydom} ticks={[0, 1, 2]} interval={0} allowDataOverflow tickSize={0} tickMargin={0} width={224} axisLine={frameLine} tickLine={false} tick={tickFactory('left', { labels: true, gap: 12 })} label={yTitle([{ t: '\u03bc', i: true }, { t: ' (GHz)' }], 116, -27)} />
      <YAxis yAxisId="r" orientation="right" type="number" dataKey="y" domain={ydom} ticks={[0, 1, 2]} interval={0} allowDataOverflow tickSize={0} tickMargin={0} width={1} axisLine={frameLine} tickLine={false} tick={tickFactory('right')} />
    </ComposedChart>
  );
}

const letterStyle: React.CSSProperties = {
  position: 'absolute', fontFamily: '"Liberation Sans", Arial, sans-serif', fontWeight: 'bold', fontSize: 72, lineHeight: '30px', color: '#000',
};

export default function App() {
  const abs = (l: number, t: number): React.CSSProperties => ({ position: 'absolute', left: l, top: t });
  return (
    <div style={{ position: 'absolute', left: 0, top: 0, width: 3809, height: 2375, background: '#fff', overflow: 'hidden' }}>
      <div style={abs(0, 0)}><PanelA /></div>
      <div style={abs(1000, 140)}><Colorbar /></div>
      <div style={abs(1340, 150)}><PanelB /></div>
      <div style={abs(0, 1180)}><PanelC /></div>
      <div style={abs(1300, 1180)}><PanelD /></div>
      <div style={abs(1600, 1290)}><Inset /></div>
      <div style={abs(2600, 1180)}><PanelE /></div>
      <div style={{ ...letterStyle, left: 1, top: 2 }}>a</div>
      <div style={{ ...letterStyle, left: 1378, top: 20 }}>b</div>
      <div style={{ ...letterStyle, left: 1, top: 1198 }}>c</div>
      <div style={{ ...letterStyle, left: 1315, top: 1198 }}>d</div>
      <div style={{ ...letterStyle, left: 2632, top: 1198 }}>e</div>
    </div>
  );
}
